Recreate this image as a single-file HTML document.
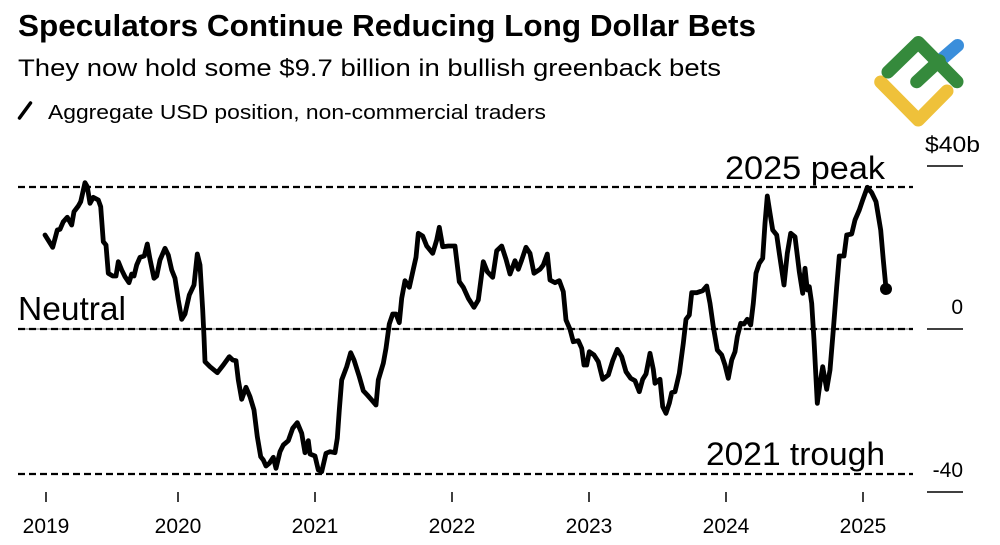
<!DOCTYPE html>
<html>
<head>
<meta charset="utf-8">
<style>
  html,body{margin:0;padding:0;background:#fff;}
  body{width:1000px;height:545px;overflow:hidden;}
  svg{display:block;}
  text{font-family:"Liberation Sans", Arial, sans-serif;fill:#000;}
</style>
</head>
<body>
<svg width="1000" height="545" viewBox="0 0 1000 545" xmlns="http://www.w3.org/2000/svg">
  <rect width="1000" height="545" fill="#fff"/>

  <!-- Title block -->
  <text x="18" y="36" font-size="31" font-weight="bold" textLength="738" lengthAdjust="spacingAndGlyphs">Speculators Continue Reducing Long Dollar Bets</text>
  <text x="18" y="76" font-size="24" textLength="703" lengthAdjust="spacingAndGlyphs">They now hold some $9.7 billion in bullish greenback bets</text>
  <line x1="19.5" y1="118" x2="30.5" y2="103" stroke="#000" stroke-width="3.5" stroke-linecap="round"/>
  <text x="48" y="119" font-size="20" textLength="498" lengthAdjust="spacingAndGlyphs">Aggregate USD position, non-commercial traders</text>

  <!-- Logo -->
  <g fill="none" stroke-width="13" stroke-linecap="round" stroke-linejoin="round">
    <polyline points="880.7,82 918.3,120 947,91" stroke="#EFC13A"/>
    <line x1="940" y1="60.7" x2="957.5" y2="45.5" stroke="#3A8EDB"/>
    <polyline points="888,72 918.3,42.5 957,81.7" stroke="#358A3C"/>
    <line x1="916.7" y1="81.7" x2="939.3" y2="60.7" stroke="#358A3C"/>
  </g>

  <!-- Reference lines -->
  <line x1="18" y1="329" x2="913" y2="329" stroke="#666" stroke-width="1"/>
  <g stroke="#000" stroke-width="2.2" stroke-dasharray="7 4">
    <line x1="18" y1="187" x2="913" y2="187"/>
    <line x1="18" y1="329" x2="913" y2="329"/>
    <line x1="18" y1="474" x2="913" y2="474"/>
  </g>

  <!-- Right axis -->
  <g stroke="#000" stroke-width="1.5">
    <line x1="927" y1="166" x2="963" y2="166"/>
    <line x1="927" y1="329" x2="963" y2="329"/>
    <line x1="927" y1="492" x2="963" y2="492"/>
  </g>
  <text x="925" y="152" font-size="22" textLength="55" lengthAdjust="spacingAndGlyphs">$40b</text>
  <text x="963" y="314" font-size="21" text-anchor="end">0</text>
  <text x="963" y="477" font-size="21" text-anchor="end">-40</text>

  <!-- Annotations -->
  <text x="725" y="179" font-size="32" textLength="160" lengthAdjust="spacingAndGlyphs">2025 peak</text>
  <text x="18" y="320" font-size="33" textLength="108" lengthAdjust="spacingAndGlyphs">Neutral</text>
  <text x="706" y="465" font-size="32" textLength="179" lengthAdjust="spacingAndGlyphs">2021 trough</text>

  <!-- X axis ticks and labels -->
  <g stroke="#000" stroke-width="1.5">
    <line x1="46" y1="492" x2="46" y2="502"/>
    <line x1="178" y1="492" x2="178" y2="502"/>
    <line x1="315" y1="492" x2="315" y2="502"/>
    <line x1="452" y1="492" x2="452" y2="502"/>
    <line x1="589" y1="492" x2="589" y2="502"/>
    <line x1="726" y1="492" x2="726" y2="502"/>
    <line x1="863" y1="492" x2="863" y2="502"/>
  </g>
  <g font-size="21" text-anchor="middle">
    <text x="46" y="533">2019</text>
    <text x="178" y="533">2020</text>
    <text x="315" y="533">2021</text>
    <text x="452" y="533">2022</text>
    <text x="589" y="533">2023</text>
    <text x="726" y="533">2024</text>
    <text x="863" y="533">2025</text>
  </g>

  <!-- Data series -->
  <path fill="none" stroke="#000" stroke-width="4.8" stroke-linejoin="round" stroke-linecap="round"
    d="M45,235 L52.7,247.3 L57.3,230 L60,229.3 L63.3,221.7 L67.3,217.3 L71.7,225 L74,211.7 L78.3,206 L80.7,201.7 L85,182.7 L87.3,186.7 L90,203.3 L93.3,197.3 L98.3,200 L100.7,206.7 L103.3,241.7 L106,245 L108.3,273.3 L112.7,276 L116,276 L118.3,261.7 L121.7,270 L125,276.7 L129,282.7 L131.7,274 L134,276 L136.7,265 L140,257.3 L144.3,256 L147.3,244 L150,259.3 L154,278.3 L156.7,276 L160,260 L165,248.3 L168.3,255 L171.7,270 L175,278.3 L178.3,300 L181.7,319.3 L185,314 L189.3,295 L194,285 L197.3,254 L200,265 L202.7,310 L204,336.7 L205,361.7 L210,366.7 L217.3,372.7 L223.3,365 L229.3,356.7 L232.7,360 L236,360.7 L238.3,380 L241.7,399.3 L246,387.3 L250,396.7 L254,410 L257.3,436.7 L260.7,456.7 L263.3,460 L266,466 L269.3,463.3 L273.3,457.3 L276,468.3 L280,451.7 L283.3,445 L288.3,440.7 L292.7,428.3 L297.3,422.7 L301.7,433.3 L305,452.7 L308.3,440.7 L310,454 L315,456 L318.3,470 L321.7,471.7 L326,453.3 L330,451.7 L335,452.7 L337.3,438.3 L339.3,410 L341.7,380 L346.7,366.7 L350.7,352.7 L354,360 L359.3,376.7 L363.3,390.7 L367.3,395 L371.7,400 L376,405 L378.3,380 L383.3,363.3 L386,348.3 L389.3,324 L392.7,314 L396,314 L399.3,322.7 L401.7,298.3 L405,280.7 L409.3,287.3 L413.3,269.3 L416,257.3 L418.3,233.3 L422.7,236 L426.7,246 L432.7,253.3 L436.7,240 L439.3,227.3 L442.7,246.7 L448.3,246 L455,246 L459.3,281.7 L463.3,287.3 L468.3,298.3 L474,307.3 L478.3,300 L483.3,261.7 L487.3,271.7 L492.7,277.3 L496.7,250.7 L501.7,246 L506,259.3 L510,274 L515,260.7 L518.3,269.3 L521.7,260 L526,247.3 L530,253.3 L534,273.3 L540,269.3 L543.3,265 L547.3,254 L550,280 L555,282.7 L559.3,280.7 L563.3,291.7 L566,320 L570,329.3 L573.3,341.7 L578.3,340.7 L581.7,348.3 L584,365 L586.7,365 L589.3,351.7 L594,355 L598.3,361.7 L602.7,379.3 L608.3,375 L612.7,360.7 L617.3,349.3 L621.7,356.7 L626,371.7 L630.7,378.3 L635,380.7 L639.3,391.7 L642.7,379.3 L646,374 L650,353.3 L653.3,369.3 L655,383.3 L660,379.3 L662.7,406.7 L666,413.3 L669.3,403.3 L671.7,392.7 L675,391.7 L679.3,373.3 L683.3,343.3 L686,319.3 L689.3,315 L691.7,292.7 L696.7,292.7 L702.7,290.7 L706.7,286 L710,303.3 L713.3,326.7 L717.3,350 L721.7,355 L725,365 L728.3,378.3 L731.7,360 L735,351.7 L737.3,336.7 L740.7,323.3 L744,324 L747.3,319.3 L750.7,325 L753.3,303.3 L756,273.3 L759.3,263.3 L762.7,258.3 L765,223.3 L767.3,196 L770,213.3 L772.7,230 L776.7,235 L779.3,253.3 L784,285 L787.3,253.3 L790.7,233.3 L795,236.7 L799.3,271.7 L802.7,293.3 L805,268.3 L807.3,290 L809.3,286.7 L811.7,303.3 L814,340 L817.3,403.3 L820,383.3 L822.7,366.7 L826.7,389.3 L830,370 L833.3,330 L836.7,286.7 L839.3,256 L844,256 L846.7,235 L851.7,234 L855,220 L859.3,210 L862.7,200 L867.3,187.3 L871.7,192.7 L876,201.7 L880.7,230 L883.3,260 L886,288.3"/>
  <circle cx="886" cy="289" r="6" fill="#000"/>
</svg>
</body>
</html>
